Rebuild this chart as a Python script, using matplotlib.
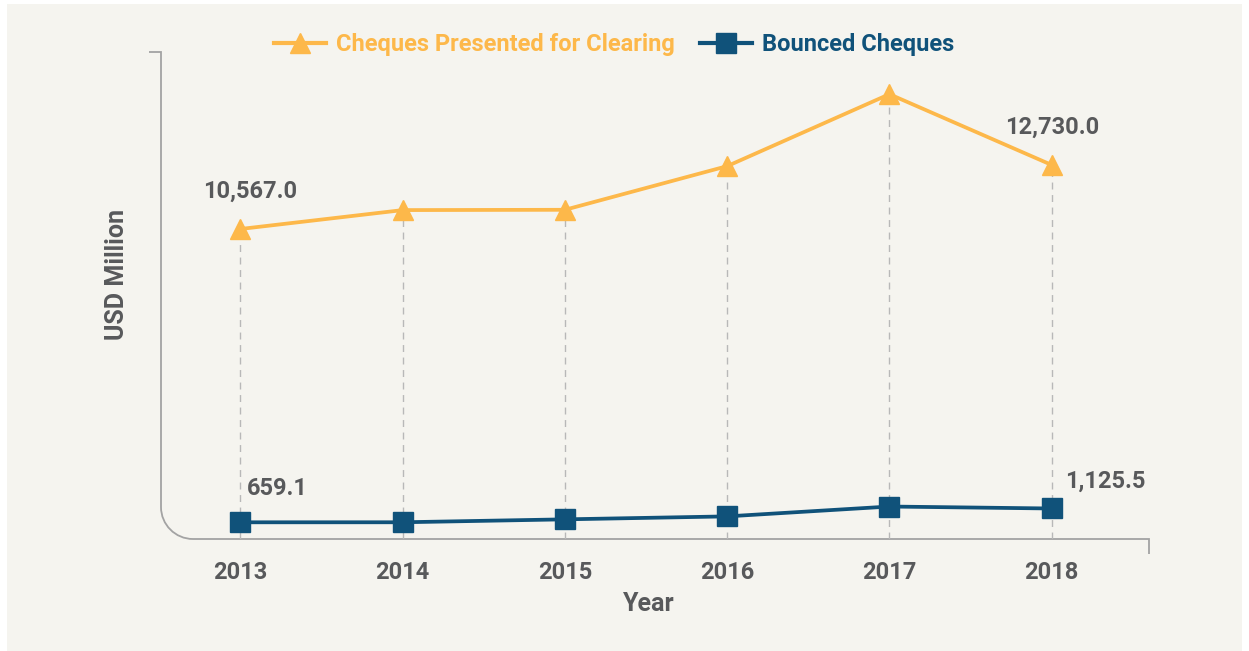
import matplotlib
matplotlib.use("Agg")
import matplotlib.pyplot as plt
from matplotlib.path import Path
from matplotlib.patches import PathPatch, Rectangle
from matplotlib.lines import Line2D

# ---- data ----
years = ["2013", "2014", "2015", "2016", "2017", "2018"]
presented = [10567.0, 11205.0, 11215.0, 12690.0, 15120.0, 12730.0]
bounced = [659.1, 660.0, 759.0, 859.0, 1192.0, 1125.5]
series_names = ["Cheques Presented for Clearing", "Bounced Cheques"]

# ---- style ----
YELLOW = "#FDB84A"
NAVY = "#10527A"
TEXT = "#58595B"
FRAME = "#A3A3A3"
GRID = "#B8B8B8"
PANEL = "#F5F4EF"

plt.rcParams["font.family"] = ["Roboto", "DejaVu Sans"]

W, H = 1249, 651
fig = plt.figure(figsize=(W / 100, H / 100), dpi=100, facecolor="white")

# beige panel behind the chart
fig.patches.append(Rectangle((7 / W, 0), (W - 14) / W, (H - 4) / H,
                             transform=fig.transFigure, facecolor=PANEL,
                             edgecolor="none", zorder=-10))

left_px, right_px, top_px, bottom_px = 161, 1149, 52, 539
ax = fig.add_axes([left_px / W, (H - bottom_px) / H,
                   (right_px - left_px) / W, (bottom_px - top_px) / H])
ax.set_facecolor("none")
ax.set_zorder(1)

x = list(range(len(years)))
ax.set_xlim(-0.49, 5.60)
ax.set_ylim(95, 16545)

for s in ax.spines.values():
    s.set_visible(False)

# dashed drop lines from each point to the baseline
ax.vlines(x, ax.get_ylim()[0], presented, colors=GRID, linewidth=1.0,
          linestyles=(0, (5, 4)), zorder=1)

ax.plot(x, presented, color=YELLOW, linewidth=2.7, marker="^",
        markersize=15, zorder=3, label=series_names[0])
ax.plot(x, bounced, color=NAVY, linewidth=2.7, marker="s",
        markersize=15, zorder=3, label=series_names[1])

# value labels
lab_kw = dict(textcoords="offset pixels", fontsize=17, fontweight="bold",
              color=TEXT, va="center")
ax.annotate(f"{presented[0]:,.1f}", (x[0], presented[0]), xytext=(10, 38),
            ha="center", **lab_kw)
ax.annotate(f"{presented[5]:,.1f}", (x[5], presented[5]), xytext=(1, 38),
            ha="center", **lab_kw)
ax.annotate(f"{bounced[0]:,.1f}", (x[0], bounced[0]), xytext=(6, 34),
            ha="left", **lab_kw)
ax.annotate(f"{bounced[5]:,.1f}", (x[5], bounced[5]), xytext=(13, 27),
            ha="left", **lab_kw)

# axes ticks and labels
ax.set_xticks(x)
ax.set_xticklabels(years)
ax.tick_params(axis="x", length=0, pad=16, labelsize=17, labelcolor=TEXT)
for t in ax.get_xticklabels():
    t.set_fontweight("bold")
ax.set_yticks([])

ax.set_xlabel("Year", fontsize=18, fontweight="bold", color=TEXT)
ax.xaxis.set_label_coords((649 - left_px) / (right_px - left_px),
                          -(592 - bottom_px) / (bottom_px - top_px))
ax.set_ylabel("USD Million", fontsize=18, fontweight="bold", color=TEXT)
ax.yaxis.set_label_coords(-(left_px - 129) / (right_px - left_px),
                          (bottom_px - 274) / (bottom_px - top_px))

# frame: left axis with rounded bottom-left corner, top tick, right end tick
aw = right_px - left_px
ah = bottom_px - top_px
r = 32
rx, ry = r / aw, r / ah
k = 0.5523
tick_top = 12 / aw
tick_end = 15 / ah
verts = [(-tick_top, 1), (0, 1), (0, ry),
         (0, ry * (1 - k)), (rx * (1 - k), 0), (rx, 0),
         (1, 0), (1, -tick_end)]
codes = [Path.MOVETO, Path.LINETO, Path.LINETO,
         Path.CURVE4, Path.CURVE4, Path.CURVE4,
         Path.LINETO, Path.LINETO]
ax.add_patch(PathPatch(Path(verts, codes), transform=ax.transAxes,
                       facecolor="none", edgecolor=FRAME, linewidth=1.3,
                       clip_on=False, zorder=0.5))

# legend
handles = [Line2D([], [], color=YELLOW, lw=3, marker="^", markersize=15),
           Line2D([], [], color=NAVY, lw=3, marker="s", markersize=15)]
leg = fig.legend(handles, series_names, loc="center",
                 bbox_to_anchor=(614 / W, (H - 45) / H), ncol=2,
                 frameon=False, fontsize=17, handlelength=2.2,
                 handletextpad=0.4, columnspacing=1.1, numpoints=1)
for txt, c in zip(leg.get_texts(), [YELLOW, NAVY]):
    txt.set_color(c)
    txt.set_fontweight("bold")

fig.savefig("out.png", dpi=100, facecolor="white")
